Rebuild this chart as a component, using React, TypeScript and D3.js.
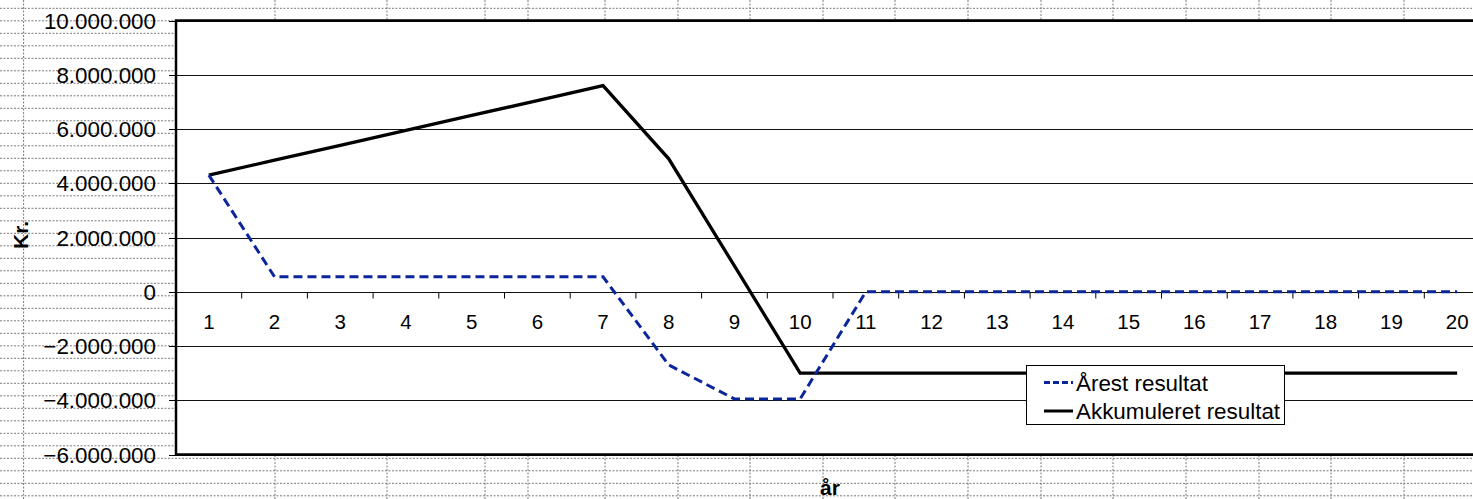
import { useRef, useEffect } from "react";
import * as d3 from "d3";

const years = [1, 2, 3, 4, 5, 6, 7, 8, 9, 10, 11, 12, 13, 14, 15, 16, 17, 18, 19, 20];

// Årest resultat (kr.)
const arest = [
  4300000, 550000, 550000, 550000, 550000, 550000, 550000, -2700000, -3950000, -3950000,
  0, 0, 0, 0, 0, 0, 0, 0, 0, 0,
];

// Akkumuleret resultat (kr.)
const akkum = [
  4300000, 4850000, 5400000, 5950000, 6500000, 7050000, 7600000, 4900000, 950000, -3000000,
  -3000000, -3000000, -3000000, -3000000, -3000000, -3000000, -3000000, -3000000, -3000000, -3000000,
];

const yTicks = [-6000000, -4000000, -2000000, 0, 2000000, 4000000, 6000000, 8000000, 10000000];

const seriesNames = ["Årest resultat", "Akkumuleret resultat"];

// spreadsheet column edges behind the chart
const sheetCols = [23.6, 275, 387, 485, 528, 605, 678, 750, 823, 895, 968, 1041, 1113, 1186, 1259, 1331, 1404];

const W = 1473;
const H = 499;
const plot = { left: 176, top: 20.5, right: 1490, bottom: 454.5 };
const font = "'Liberation Sans', Arial, sans-serif";
const blue = "#0b259a";

const locale = d3.formatLocale({ decimal: ",", thousands: ".", grouping: [3], currency: ["", " kr."] });
const fmt = locale.format(",d");

export default function App() {
  const svgRef = useRef<SVGSVGElement>(null);

  useEffect(() => {
    if (!svgRef.current) return;
    const svg = d3.select(svgRef.current);
    svg.selectAll("*").remove();

    const x = d3
      .scalePoint<number>()
      .domain(years)
      .range([plot.left, plot.right])
      .padding(0.5);
    const step = x.step();

    const y = d3.scaleLinear().domain([-6000000, 10000000]).range([plot.bottom, plot.top]);

    // sheet background
    svg.append("rect").attr("width", W).attr("height", H).attr("fill", "#fff");
    const bg = svg.append("g").attr("stroke", "#7a7a7a").attr("stroke-width", 1).attr("stroke-dasharray", "2,1.5");
    bg.selectAll("line.row")
      .data(d3.range(8.3, H, 12.5))
      .join("line")
      .attr("x1", 0)
      .attr("x2", W)
      .attr("y1", (d) => d)
      .attr("y2", (d) => d);
    bg.selectAll("line.col")
      .data(sheetCols)
      .join("line")
      .attr("x1", (d) => d)
      .attr("x2", (d) => d)
      .attr("y1", 0)
      .attr("y2", H);

    // plot area
    svg
      .append("rect")
      .attr("x", plot.left)
      .attr("y", plot.top)
      .attr("width", plot.right - plot.left)
      .attr("height", plot.bottom - plot.top)
      .attr("fill", "#fff");

    // gridlines
    svg
      .append("g")
      .selectAll("line")
      .data(yTicks)
      .join("line")
      .attr("x1", plot.left)
      .attr("x2", plot.right)
      .attr("y1", (d) => Math.round(y(d)) + 0.5)
      .attr("y2", (d) => Math.round(y(d)) + 0.5)
      .attr("stroke", "#111")
      .attr("stroke-width", 1);

    // y tick marks + labels
    const yAxis = svg.append("g");
    yAxis
      .selectAll("line")
      .data(yTicks)
      .join("line")
      .attr("x1", plot.left - 7)
      .attr("x2", plot.left)
      .attr("y1", (d) => Math.round(y(d)) + 0.5)
      .attr("y2", (d) => Math.round(y(d)) + 0.5)
      .attr("stroke", "#000");
    yAxis
      .selectAll("text")
      .data(yTicks)
      .join("text")
      .attr("x", 156)
      .attr("y", (d) => y(d))
      .attr("dy", "0.36em")
      .attr("text-anchor", "end")
      .attr("font-family", font)
      .attr("font-size", 22.4)
      .attr("fill", "#000")
      .text((d) => fmt(d));

    // x axis on zero line
    const y0 = Math.round(y(0)) + 0.5;
    const xAxis = svg.append("g");
    xAxis
      .selectAll("line")
      .data(d3.range(0, years.length + 1))
      .join("line")
      .attr("x1", (i) => plot.left + i * step)
      .attr("x2", (i) => plot.left + i * step)
      .attr("y1", y0)
      .attr("y2", y0 + 6)
      .attr("stroke", "#000");
    xAxis
      .selectAll("text")
      .data(years)
      .join("text")
      .attr("x", (d) => x(d)!)
      .attr("y", y0 + 36)
      .attr("text-anchor", "middle")
      .attr("font-family", font)
      .attr("font-size", 20.5)
      .attr("fill", "#000")
      .text((d) => String(d));

    // series
    const line = d3
      .line<number>()
      .x((_, i) => x(years[i])!)
      .y((d) => y(d));

    svg
      .append("path")
      .datum(akkum)
      .attr("d", line)
      .attr("fill", "none")
      .attr("stroke", "#000")
      .attr("stroke-width", 3.3)
      .attr("stroke-linejoin", "miter");

    svg
      .append("path")
      .datum(arest)
      .attr("d", line)
      .attr("fill", "none")
      .attr("stroke", blue)
      .attr("stroke-width", 3)
      .attr("stroke-dasharray", "9,5");

    // plot border
    svg
      .append("rect")
      .attr("x", plot.left)
      .attr("y", plot.top)
      .attr("width", plot.right - plot.left)
      .attr("height", plot.bottom - plot.top)
      .attr("fill", "none")
      .attr("stroke", "#000")
      .attr("stroke-width", 2.5);

    // legend
    const lg = svg.append("g").attr("transform", "translate(1026,365)");
    lg.append("rect")
      .attr("x", 0.5)
      .attr("y", 0.5)
      .attr("width", 258)
      .attr("height", 59)
      .attr("fill", "#fff")
      .attr("stroke", "#000")
      .attr("stroke-width", 1);
    const items = [
      { name: seriesNames[0], color: blue, dash: "6,3" },
      { name: seriesNames[1], color: "#000", dash: null },
    ];
    items.forEach((it, i) => {
      const cy = 17.5 + i * 28.5;
      lg.append("line")
        .attr("x1", 18)
        .attr("x2", 47)
        .attr("y1", cy)
        .attr("y2", cy)
        .attr("stroke", it.color)
        .attr("stroke-width", 3)
        .attr("stroke-dasharray", it.dash);
      lg.append("text")
        .attr("x", 50)
        .attr("y", cy)
        .attr("dy", "0.36em")
        .attr("font-family", font)
        .attr("font-size", 22.4)
        .attr("fill", "#000")
        .text(it.name);
    });

    // axis titles
    svg
      .append("text")
      .attr("transform", "translate(28,235) rotate(-90)")
      .attr("text-anchor", "middle")
      .attr("font-family", font)
      .attr("font-weight", "bold")
      .attr("font-size", 21)
      .text("Kr.");
    svg
      .append("text")
      .attr("x", 820)
      .attr("y", 495)
      .attr("font-family", font)
      .attr("font-weight", "bold")
      .attr("font-size", 21)
      .text("år");
  }, []);

  return (
    <svg
      ref={svgRef}
      width={W}
      height={H}
      viewBox={`0 0 ${W} ${H}`}
      style={{ position: "absolute", left: 0, top: 0, display: "block" }}
    />
  );
}
